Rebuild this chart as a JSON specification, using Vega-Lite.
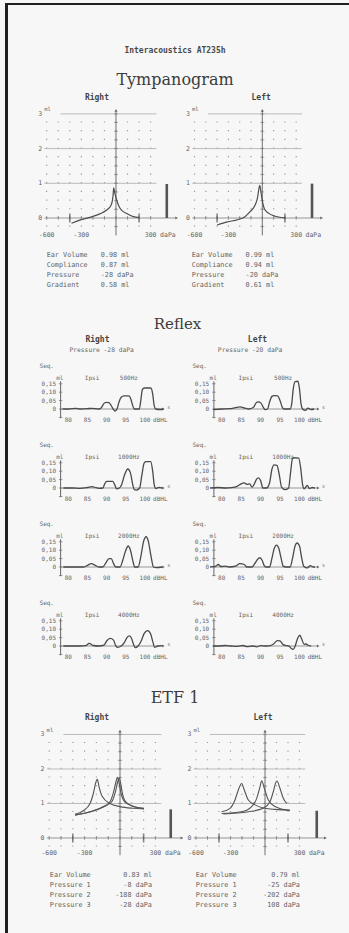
{
"$schema":"https://vega.github.io/schema/vega-lite/v6.json",
"background":"#f7f7f7",
"padding":{"left":5,"top":3,"right":0,"bottom":0},
"spacing":0,
"bounds":"flush",
"config":{"view":{"stroke":null},"axis":{"disable":true},"legend":{"disable":true},"font":"DejaVu Sans Mono","text":{"font":"DejaVu Sans Mono","color":"#5e5e5e"}},
"datasets":{
"one":[{}],
"gridp":[{"p":-600},{"p":-500},{"p":-400},{"p":-300},{"p":-200},{"p":-100},{"p":0},{"p":100},{"p":200},{"p":300}],
"gridc":[{"c":-0.25},{"c":0.25},{"c":0.5},{"c":0.75},{"c":1},{"c":1.25},{"c":1.5},{"c":1.75},{"c":2},{"c":2.25},{"c":2.5},{"c":2.75},{"c":3}],
"hlines":[{"c":1},{"c":2}],
"ylab":[{"c":0,"t":"0"},{"c":1,"t":"1"},{"c":2,"t":"2"},{"c":3,"t":"3"}],
"xlab":[{"p":-600,"t":"-600"},{"p":-300,"t":"-300"},{"p":300,"t":"300"}],
"bigt":[{"p":-400},{"p":200}],
"tympR":[{"p":-385,"m":-0.15},{"p":-313,"m":-0.06},{"p":-226,"m":0.02},{"p":-139,"m":0.12},{"p":-81,"m":0.23},{"p":-43,"m":0.37},{"p":-30,"m":0.52},{"p":-24,"m":0.7},{"p":-20,"m":0.87},{"p":-10,"m":0.72},{"p":6,"m":0.52},{"p":20,"m":0.38},{"p":35,"m":0.28},{"p":60,"m":0.19},{"p":93,"m":0.13},{"p":150,"m":0.04},{"p":200,"m":0.01}],
"tympL":[{"p":-400,"m":-0.2},{"p":-309,"m":-0.11},{"p":-218,"m":-0.05},{"p":-157,"m":0.03},{"p":-112,"m":0.17},{"p":-66,"m":0.36},{"p":-42,"m":0.59},{"p":-30,"m":0.85},{"p":-22,"m":0.94},{"p":-12,"m":0.75},{"p":0,"m":0.5},{"p":18,"m":0.27},{"p":55,"m":0.14},{"p":115,"m":0.05},{"p":206,"m":0.0}],
"etfR":[
{"n":1,"p":-381,"m":0.67},{"n":1,"p":-226,"m":0.78},{"n":1,"p":-141,"m":0.9},{"n":1,"p":-70,"m":1.05},{"n":1,"p":-42,"m":1.3},{"n":1,"p":-19,"m":1.63},{"n":1,"p":-8,"m":1.74},{"n":1,"p":5,"m":1.6},{"n":1,"p":20,"m":1.3},{"n":1,"p":45,"m":1.06},{"n":1,"p":100,"m":0.93},{"n":1,"p":203,"m":0.86},
{"n":2,"p":-381,"m":0.69},{"n":2,"p":-311,"m":0.79},{"n":2,"p":-254,"m":1.0},{"n":2,"p":-226,"m":1.29},{"n":2,"p":-203,"m":1.63},{"n":2,"p":-192,"m":1.7},{"n":2,"p":-178,"m":1.49},{"n":2,"p":-150,"m":1.2},{"n":2,"p":-85,"m":1.0},{"n":2,"p":0,"m":0.91},{"n":2,"p":113,"m":0.86},{"n":2,"p":203,"m":0.84},
{"n":3,"p":-381,"m":0.66},{"n":3,"p":-226,"m":0.79},{"n":3,"p":-141,"m":0.91},{"n":3,"p":-85,"m":1.05},{"n":3,"p":-57,"m":1.3},{"n":3,"p":-34,"m":1.63},{"n":3,"p":-23,"m":1.76},{"n":3,"p":-8,"m":1.6},{"n":3,"p":10,"m":1.28},{"n":3,"p":40,"m":1.05},{"n":3,"p":113,"m":0.92},{"n":3,"p":203,"m":0.85}],
"etfL":[
{"n":1,"p":-377,"m":0.71},{"n":1,"p":-203,"m":0.76},{"n":1,"p":-116,"m":0.91},{"n":1,"p":-72,"m":1.15},{"n":1,"p":-43,"m":1.49},{"n":1,"p":-29,"m":1.66},{"n":1,"p":-6,"m":1.44},{"n":1,"p":29,"m":1.1},{"n":1,"p":87,"m":0.91},{"n":1,"p":217,"m":0.79},
{"n":2,"p":-377,"m":0.76},{"n":2,"p":-304,"m":0.86},{"n":2,"p":-261,"m":1.1},{"n":2,"p":-232,"m":1.39},{"n":2,"p":-203,"m":1.58},{"n":2,"p":-180,"m":1.39},{"n":2,"p":-145,"m":1.1},{"n":2,"p":-87,"m":0.96},{"n":2,"p":0,"m":0.86},{"n":2,"p":87,"m":0.83},{"n":2,"p":217,"m":0.81},
{"n":3,"p":-362,"m":0.7},{"n":3,"p":-145,"m":0.76},{"n":3,"p":-15,"m":0.86},{"n":3,"p":43,"m":1.05},{"n":3,"p":72,"m":1.34},{"n":3,"p":93,"m":1.6},{"n":3,"p":104,"m":1.65},{"n":3,"p":130,"m":1.44},{"n":3,"p":159,"m":1.15},{"n":3,"p":189,"m":1.0}],
"rylab":[{"v":0.15,"t":"0,15"},{"v":0.1,"t":"0,10"},{"v":0.05,"t":"0,05"},{"v":0,"t":"0"}],
"rytick":[{"v":-0.05},{"v":0},{"v":0.05},{"v":0.1},{"v":0.15}],
"rxlab":[{"d":80,"t":"80"},{"d":85,"t":"85"},{"d":90,"t":"90"},{"d":95,"t":"95"},{"d":100,"t":"100"}],
"r500R":[{"d":78.5,"m":0},{"d":80,"m":0},{"d":82,"m":0.004},{"d":83,"m":0},{"d":85,"m":0.002},{"d":86,"m":0.004},{"d":88,"m":0},{"d":88.7,"m":0.01},{"d":89.2,"m":0.03},{"d":89.9,"m":0.04},{"d":90.6,"m":0.038},{"d":91.2,"m":0.02},{"d":91.7,"m":0},{"d":92.2,"m":-0.012},{"d":92.7,"m":0},{"d":93.2,"m":0.04},{"d":93.8,"m":0.07},{"d":94.5,"m":0.078},{"d":95.8,"m":0.078},{"d":96.3,"m":0.06},{"d":96.8,"m":0.02},{"d":97.2,"m":0},{"d":98.5,"m":0},{"d":98.9,"m":0.05},{"d":99.3,"m":0.115},{"d":99.8,"m":0.125},{"d":101.5,"m":0.125},{"d":102,"m":0.09},{"d":102.4,"m":0.02},{"d":102.8,"m":0},{"d":104,"m":-0.003},{"d":104.8,"m":0}],
"r500L":[{"d":77.8,"m":-0.004},{"d":80,"m":0},{"d":82,"m":0.002},{"d":83.5,"m":0.008},{"d":84.7,"m":0.013},{"d":86,"m":0.005},{"d":87,"m":0},{"d":88.2,"m":0.01},{"d":88.8,"m":0.035},{"d":89.4,"m":0.042},{"d":90.1,"m":0.035},{"d":90.7,"m":0.01},{"d":91.2,"m":-0.004},{"d":91.8,"m":0},{"d":92.3,"m":0.04},{"d":92.9,"m":0.075},{"d":93.5,"m":0.08},{"d":94.4,"m":0.078},{"d":95,"m":0.05},{"d":95.6,"m":0.01},{"d":96,"m":0},{"d":97.6,"m":0},{"d":98,"m":0.03},{"d":98.4,"m":0.12},{"d":98.9,"m":0.163},{"d":99.6,"m":0.165},{"d":100,"m":0.12},{"d":100.4,"m":0.03},{"d":100.8,"m":0},{"d":101.5,"m":-0.008},{"d":102.2,"m":0.005},{"d":103,"m":-0.003},{"d":103.8,"m":0}],
"r1000R":[{"d":78.7,"m":0},{"d":81,"m":0},{"d":83,"m":-0.002},{"d":85,"m":0.003},{"d":86.2,"m":0.008},{"d":87.2,"m":0.002},{"d":88,"m":-0.002},{"d":89,"m":0},{"d":89.5,"m":0.025},{"d":90,"m":0.04},{"d":91.6,"m":0.04},{"d":92.1,"m":0.02},{"d":92.6,"m":-0.005},{"d":93.3,"m":0},{"d":93.9,"m":0.02},{"d":94.7,"m":0.08},{"d":95.5,"m":0.113},{"d":96.2,"m":0.09},{"d":96.8,"m":0.02},{"d":97.2,"m":-0.01},{"d":97.8,"m":-0.012},{"d":98.6,"m":0},{"d":99.2,"m":0.08},{"d":99.8,"m":0.15},{"d":100.3,"m":0.157},{"d":101.5,"m":0.157},{"d":102,"m":0.1},{"d":102.4,"m":0.02},{"d":102.8,"m":-0.003},{"d":103.7,"m":0.004},{"d":104.5,"m":0}],
"r1000L":[{"d":77,"m":0},{"d":79,"m":0.003},{"d":81,"m":0},{"d":82.5,"m":0.002},{"d":84,"m":0.01},{"d":85,"m":0.025},{"d":85.8,"m":0.03},{"d":86.5,"m":0.022},{"d":87.2,"m":0.025},{"d":87.8,"m":0.005},{"d":88.3,"m":0.02},{"d":88.9,"m":0.05},{"d":89.4,"m":0.06},{"d":90,"m":0.045},{"d":90.6,"m":0},{"d":91.5,"m":0},{"d":92.3,"m":0.03},{"d":92.9,"m":0.11},{"d":93.5,"m":0.138},{"d":94.2,"m":0.135},{"d":94.8,"m":0.08},{"d":95.4,"m":0.005},{"d":96.3,"m":-0.01},{"d":97.2,"m":0},{"d":97.7,"m":0.09},{"d":98.2,"m":0.175},{"d":98.6,"m":0.18},{"d":99.8,"m":0.178},{"d":100.3,"m":0.12},{"d":100.8,"m":0.02},{"d":101.2,"m":-0.005},{"d":102,"m":0.015},{"d":102.6,"m":-0.003},{"d":103.3,"m":0.003},{"d":104,"m":0}],
"r2000R":[{"d":78.7,"m":0},{"d":82,"m":0},{"d":84,"m":0},{"d":85,"m":0.01},{"d":86,"m":0.02},{"d":87,"m":0.01},{"d":88,"m":0},{"d":89,"m":0},{"d":89.8,"m":0.025},{"d":90.6,"m":0.05},{"d":91.2,"m":0.05},{"d":91.8,"m":0.02},{"d":92.4,"m":0},{"d":93.5,"m":0},{"d":94.2,"m":0.04},{"d":95,"m":0.1},{"d":95.6,"m":0.125},{"d":96.2,"m":0.1},{"d":96.8,"m":0.04},{"d":97.3,"m":0},{"d":98.2,"m":0},{"d":98.9,"m":0.06},{"d":99.6,"m":0.15},{"d":100.3,"m":0.18},{"d":100.9,"m":0.15},{"d":101.6,"m":0.06},{"d":102.2,"m":0},{"d":103,"m":-0.004},{"d":104.5,"m":0}],
"r2000L":[{"d":77,"m":0},{"d":78.5,"m":0.005},{"d":79.1,"m":0.015},{"d":79.8,"m":0.003},{"d":81,"m":0.005},{"d":82,"m":0},{"d":83.5,"m":0.005},{"d":84.7,"m":0.02},{"d":85.8,"m":0.015},{"d":86.5,"m":0},{"d":87.8,"m":0},{"d":88.5,"m":0.02},{"d":89.2,"m":0.045},{"d":89.8,"m":0.055},{"d":90.4,"m":0.04},{"d":90.9,"m":0.01},{"d":91.4,"m":0},{"d":92.3,"m":0},{"d":92.9,"m":0.05},{"d":93.5,"m":0.11},{"d":94.1,"m":0.13},{"d":94.7,"m":0.11},{"d":95.3,"m":0.05},{"d":95.8,"m":0.005},{"d":96.5,"m":0},{"d":97.6,"m":0},{"d":98.2,"m":0.05},{"d":98.8,"m":0.12},{"d":99.4,"m":0.143},{"d":100,"m":0.125},{"d":100.6,"m":0.05},{"d":101.1,"m":0.005},{"d":102,"m":-0.005},{"d":102.8,"m":0.008},{"d":103.5,"m":0},{"d":104,"m":0}],
"r4000R":[{"d":78.7,"m":0},{"d":81,"m":0},{"d":83,"m":0},{"d":84.5,"m":0.002},{"d":85.5,"m":0.016},{"d":86.5,"m":0.003},{"d":88,"m":0},{"d":89.3,"m":0.005},{"d":90,"m":0.03},{"d":90.9,"m":0.045},{"d":91.8,"m":0.035},{"d":92.3,"m":0.005},{"d":92.8,"m":-0.008},{"d":93.8,"m":0},{"d":94.6,"m":0.02},{"d":95.3,"m":0.05},{"d":95.9,"m":0.06},{"d":96.5,"m":0.045},{"d":97,"m":0.01},{"d":97.5,"m":-0.01},{"d":98.2,"m":0},{"d":99,"m":0.03},{"d":99.8,"m":0.075},{"d":100.7,"m":0.092},{"d":101.5,"m":0.07},{"d":102.1,"m":0.02},{"d":102.5,"m":-0.008},{"d":103.3,"m":0},{"d":104.5,"m":0.002}],
"r4000L":[{"d":77.8,"m":0},{"d":79,"m":0},{"d":81,"m":0.003},{"d":82.5,"m":0},{"d":84,"m":-0.002},{"d":85.5,"m":0.003},{"d":86.5,"m":-0.004},{"d":88,"m":0},{"d":89,"m":-0.005},{"d":90,"m":0.002},{"d":91.5,"m":0},{"d":92.5,"m":0.002},{"d":93.5,"m":0.015},{"d":94.3,"m":0.032},{"d":95,"m":0.03},{"d":95.8,"m":0.008},{"d":96.5,"m":0.003},{"d":97.3,"m":0},{"d":97.9,"m":-0.015},{"d":98.4,"m":-0.02},{"d":98.9,"m":0},{"d":99.5,"m":0.045},{"d":100.1,"m":0.064},{"d":100.6,"m":0.04},{"d":101.2,"m":0.01},{"d":101.7,"m":0.012},{"d":102.3,"m":0.003},{"d":103,"m":0}]
},
"vconcat":[
{"width":344,"height":2,"view":{"fill":"#202020"},"data":{"values":[]},"mark":"point","encoding":{}},
{"spacing":0,"bounds":"flush","hconcat":[
{"width":3,"height":928,"view":{"fill":"#202020"},"data":{"values":[]},"mark":"point","encoding":{}},
{"spacing":0,"vconcat":[

{"width":334,"height":87,"layer":[
{"data":{"values":[{"t":"Interacoustics AT235h"}]},"mark":{"type":"text","fontSize":8,"fontWeight":"bold","color":"#4a4a4a"},"encoding":{"y":{"field":"t","type":"nominal","scale":{"type":"point","domain":["Interacoustics AT235h","Tympanogram"],"padding":1,"align":0.793}},"text":{"field":"t","type":"nominal"}}},
{"data":{"values":[{"t":"Tympanogram"}]},"mark":{"type":"text","fontSize":16,"font":"DejaVu Serif","color":"#3c3c3c"},"encoding":{"y":{"field":"t","type":"nominal"},"text":{"field":"t","type":"nominal"}}}
]},

{"spacing":0,"bounds":"flush","hconcat":[
{"width":167,"height":158,"layer":[
{"data":{"name":"gridp"},"mark":{"type":"rule","color":"#9a9a9a","strokeWidth":1.2,"strokeDash":[1.2,7.475]},"encoding":{"x":{"field":"p","type":"quantitative","scale":{"domain":[-935,511],"nice":false,"zero":false}},"y":{"datum":-0.25,"type":"quantitative","scale":{"domain":[-0.922,3.631],"nice":false,"zero":false}},"y2":{"datum":3.0}}},
{"data":{"name":"hlines"},"mark":{"type":"rule","color":"#b4b4b4","strokeWidth":0.9},"encoding":{"x":{"datum":-620,"type":"quantitative"},"x2":{"datum":350},"y":{"field":"c","type":"quantitative"}}},
{"data":{"name":"one"},"mark":{"type":"rule","color":"#b4b4b4","strokeWidth":0.9},"encoding":{"x":{"datum":-480,"type":"quantitative"},"x2":{"datum":350},"y":{"datum":3,"type":"quantitative"}}},
{"data":{"name":"one"},"mark":{"type":"rule","color":"#8a8a8a","strokeWidth":0.9},"encoding":{"x":{"datum":-620,"type":"quantitative"},"x2":{"datum":515},"y":{"datum":0,"type":"quantitative"}}},
{"data":{"name":"one"},"mark":{"type":"rule","color":"#707070","strokeWidth":1},"encoding":{"x":{"datum":0,"type":"quantitative"},"y":{"datum":-0.5,"type":"quantitative"},"y2":{"datum":3.08}}},
{"data":{"name":"one"},"mark":{"type":"point","shape":"triangle-up","size":10,"filled":true,"opacity":1,"color":"#666"},"encoding":{"x":{"datum":0,"type":"quantitative"},"y":{"datum":3.1,"type":"quantitative"}}},
{"data":{"name":"one"},"mark":{"type":"point","shape":"triangle-right","size":10,"filled":true,"opacity":1,"color":"#666"},"encoding":{"x":{"datum":525,"type":"quantitative"},"y":{"datum":0,"type":"quantitative"}}},
{"data":{"name":"gridp"},"mark":{"type":"tick","orient":"vertical","size":4,"thickness":0.9,"color":"#777"},"encoding":{"x":{"field":"p","type":"quantitative"},"y":{"datum":0,"type":"quantitative"}}},
{"data":{"name":"bigt"},"mark":{"type":"tick","orient":"vertical","size":9,"thickness":1.6,"color":"#555"},"encoding":{"x":{"field":"p","type":"quantitative"},"y":{"datum":0,"type":"quantitative"}}},
{"data":{"name":"gridc"},"mark":{"type":"tick","orient":"horizontal","size":4,"thickness":0.9,"color":"#777"},"encoding":{"x":{"datum":0,"type":"quantitative"},"y":{"field":"c","type":"quantitative"}}},
{"data":{"name":"ylab"},"mark":{"type":"text","align":"right","fontSize":6.5,"color":"#666"},"encoding":{"x":{"datum":-640,"type":"quantitative"},"y":{"field":"c","type":"quantitative"},"text":{"field":"t","type":"nominal"}}},
{"data":{"name":"one"},"mark":{"type":"text","text":"ml","align":"left","fontSize":5.5,"color":"#666"},"encoding":{"x":{"datum":-622,"type":"quantitative"},"y":{"datum":3.13,"type":"quantitative"}}},
{"data":{"name":"xlab"},"mark":{"type":"text","fontSize":6.5,"color":"#666"},"encoding":{"x":{"field":"p","type":"quantitative"},"y":{"datum":-0.49,"type":"quantitative"},"text":{"field":"t","type":"nominal"}}},
{"data":{"name":"one"},"mark":{"type":"text","text":"daPa","align":"left","fontSize":6.5,"color":"#666"},"encoding":{"x":{"datum":382,"type":"quantitative"},"y":{"datum":-0.49,"type":"quantitative"}}},
{"data":{"name":"one"},"mark":{"type":"text","text":"Right","fontSize":8,"fontWeight":"bold","color":"#444"},"encoding":{"x":{"datum":-165,"type":"quantitative"},"y":{"datum":3.46,"type":"quantitative"}}},
{"data":{"values":[{"vol":0.98}]},"mark":{"type":"rule","color":"#555","strokeWidth":2.6},"encoding":{"x":{"datum":440,"type":"quantitative"},"y":{"field":"vol","type":"quantitative"},"y2":{"datum":0}}},
{"data":{"name":"tympR"},"mark":{"type":"line","color":"#4e4e4e","strokeWidth":1.2,"interpolate":"monotone"},"encoding":{"x":{"field":"p","type":"quantitative"},"y":{"field":"m","type":"quantitative"}}}
]},
{"width":174,"height":158,"layer":[
{"data":{"name":"gridp"},"mark":{"type":"rule","color":"#9a9a9a","strokeWidth":1.2,"strokeDash":[1.2,7.475]},"encoding":{"x":{"field":"p","type":"quantitative","scale":{"domain":[-772.6,767.3],"nice":false,"zero":false}},"y":{"datum":-0.25,"type":"quantitative","scale":{"domain":[-0.922,3.631],"nice":false,"zero":false}},"y2":{"datum":3.0}}},
{"data":{"name":"hlines"},"mark":{"type":"rule","color":"#b4b4b4","strokeWidth":0.9},"encoding":{"x":{"datum":-620,"type":"quantitative"},"x2":{"datum":350},"y":{"field":"c","type":"quantitative"}}},
{"data":{"name":"one"},"mark":{"type":"rule","color":"#b4b4b4","strokeWidth":0.9},"encoding":{"x":{"datum":-480,"type":"quantitative"},"x2":{"datum":350},"y":{"datum":3,"type":"quantitative"}}},
{"data":{"name":"one"},"mark":{"type":"rule","color":"#8a8a8a","strokeWidth":0.9},"encoding":{"x":{"datum":-620,"type":"quantitative"},"x2":{"datum":515},"y":{"datum":0,"type":"quantitative"}}},
{"data":{"name":"one"},"mark":{"type":"rule","color":"#707070","strokeWidth":1},"encoding":{"x":{"datum":0,"type":"quantitative"},"y":{"datum":-0.5,"type":"quantitative"},"y2":{"datum":3.08}}},
{"data":{"name":"one"},"mark":{"type":"point","shape":"triangle-up","size":10,"filled":true,"opacity":1,"color":"#666"},"encoding":{"x":{"datum":0,"type":"quantitative"},"y":{"datum":3.1,"type":"quantitative"}}},
{"data":{"name":"one"},"mark":{"type":"point","shape":"triangle-right","size":10,"filled":true,"opacity":1,"color":"#666"},"encoding":{"x":{"datum":525,"type":"quantitative"},"y":{"datum":0,"type":"quantitative"}}},
{"data":{"name":"gridp"},"mark":{"type":"tick","orient":"vertical","size":4,"thickness":0.9,"color":"#777"},"encoding":{"x":{"field":"p","type":"quantitative"},"y":{"datum":0,"type":"quantitative"}}},
{"data":{"name":"bigt"},"mark":{"type":"tick","orient":"vertical","size":9,"thickness":1.6,"color":"#555"},"encoding":{"x":{"field":"p","type":"quantitative"},"y":{"datum":0,"type":"quantitative"}}},
{"data":{"name":"gridc"},"mark":{"type":"tick","orient":"horizontal","size":4,"thickness":0.9,"color":"#777"},"encoding":{"x":{"datum":0,"type":"quantitative"},"y":{"field":"c","type":"quantitative"}}},
{"data":{"name":"ylab"},"mark":{"type":"text","align":"right","fontSize":6.5,"color":"#666"},"encoding":{"x":{"datum":-640,"type":"quantitative"},"y":{"field":"c","type":"quantitative"},"text":{"field":"t","type":"nominal"}}},
{"data":{"name":"one"},"mark":{"type":"text","text":"ml","align":"left","fontSize":5.5,"color":"#666"},"encoding":{"x":{"datum":-622,"type":"quantitative"},"y":{"datum":3.13,"type":"quantitative"}}},
{"data":{"name":"xlab"},"mark":{"type":"text","fontSize":6.5,"color":"#666"},"encoding":{"x":{"field":"p","type":"quantitative"},"y":{"datum":-0.49,"type":"quantitative"},"text":{"field":"t","type":"nominal"}}},
{"data":{"name":"one"},"mark":{"type":"text","text":"daPa","align":"left","fontSize":6.5,"color":"#666"},"encoding":{"x":{"datum":382,"type":"quantitative"},"y":{"datum":-0.49,"type":"quantitative"}}},
{"data":{"name":"one"},"mark":{"type":"text","text":"Left","fontSize":8,"fontWeight":"bold","color":"#444"},"encoding":{"x":{"datum":-10,"type":"quantitative"},"y":{"datum":3.46,"type":"quantitative"}}},
{"data":{"values":[{"vol":0.99}]},"mark":{"type":"rule","color":"#555","strokeWidth":2.6},"encoding":{"x":{"datum":440,"type":"quantitative"},"y":{"field":"vol","type":"quantitative"},"y2":{"datum":0}}},
{"data":{"name":"tympL"},"mark":{"type":"line","color":"#4e4e4e","strokeWidth":1.2,"interpolate":"monotone"},"encoding":{"x":{"field":"p","type":"quantitative"},"y":{"field":"m","type":"quantitative"}}}
]}
]},

{"spacing":0,"bounds":"flush","hconcat":[
{"width":167,"height":40,"data":{"values":[{"k":"Ear Volume","v":"0.98 ml"},{"k":"Compliance","v":"0.87 ml"},{"k":"Pressure","v":"\u00a0\u00a0-28 daPa"},{"k":"Gradient","v":"0.58 ml"}]},"layer":[
{"mark":{"type":"text","align":"left","fontSize":6.8,"color":"#636363"},"encoding":{"y":{"field":"k","type":"nominal","sort":null,"scale":{"type":"point","padding":0.5}},"x":{"datum":-600,"type":"quantitative","scale":{"domain":[-935,511],"nice":false,"zero":false}},"text":{"field":"k","type":"nominal"}}},
{"mark":{"type":"text","align":"left","fontSize":6.8,"color":"#636363"},"encoding":{"y":{"field":"k","type":"nominal","sort":null},"x":{"datum":-132,"type":"quantitative"},"text":{"field":"v","type":"nominal"}}}
]},
{"width":174,"height":40,"data":{"values":[{"k":"Ear Volume","v":"0.99 ml"},{"k":"Compliance","v":"0.94 ml"},{"k":"Pressure","v":"\u00a0\u00a0-20 daPa"},{"k":"Gradient","v":"0.61 ml"}]},"layer":[
{"mark":{"type":"text","align":"left","fontSize":6.8,"color":"#636363"},"encoding":{"y":{"field":"k","type":"nominal","sort":null,"scale":{"type":"point","padding":0.5}},"x":{"datum":-625,"type":"quantitative","scale":{"domain":[-772.6,767.3],"nice":false,"zero":false}},"text":{"field":"k","type":"nominal"}}},
{"mark":{"type":"text","align":"left","fontSize":6.8,"color":"#636363"},"encoding":{"y":{"field":"k","type":"nominal","sort":null},"x":{"datum":-148,"type":"quantitative"},"text":{"field":"v","type":"nominal"}}}
]}
]},

{"width":339,"height":44,"data":{"values":[{"t":"Reflex"}]},"mark":{"type":"text","fontSize":15,"font":"DejaVu Serif","color":"#3c3c3c"},"encoding":{"y":{"field":"t","type":"nominal","scale":{"type":"point","align":0.773}},"text":{"field":"t","type":"nominal"}}},

{"spacing":0,"bounds":"flush","hconcat":[
{"width":167,"height":93,"layer":[
{"data":{"name":"one"},"mark":{"type":"rule","color":"#8a8a8a","strokeWidth":0.9},"encoding":{"x":{"datum":78,"type":"quantitative","scale":{"domain":[64.28,107.82],"nice":false,"zero":false}},"x2":{"datum":104.5},"y":{"datum":0,"type":"quantitative","scale":{"domain":[-0.107,0.446],"nice":false,"zero":false}}}},
{"data":{"name":"one"},"mark":{"type":"rule","color":"#666","strokeWidth":1},"encoding":{"x":{"datum":78,"type":"quantitative"},"y":{"datum":-0.055,"type":"quantitative"},"y2":{"datum":0.165}}},
{"data":{"name":"one"},"mark":{"type":"point","shape":"triangle-right","size":8,"filled":true,"opacity":1,"color":"#666"},"encoding":{"x":{"datum":104.8,"type":"quantitative"},"y":{"datum":0,"type":"quantitative"}}},
{"data":{"name":"rytick"},"mark":{"type":"tick","orient":"horizontal","size":3.5,"thickness":0.9,"color":"#666"},"encoding":{"x":{"datum":78,"type":"quantitative"},"y":{"field":"v","type":"quantitative"}}},
{"data":{"name":"rylab"},"mark":{"type":"text","align":"right","fontSize":6,"color":"#666"},"encoding":{"x":{"datum":76.8,"type":"quantitative"},"y":{"field":"v","type":"quantitative"},"text":{"field":"t","type":"nominal"}}},
{"data":{"name":"rxlab"},"mark":{"type":"text","fontSize":6,"color":"#666"},"encoding":{"x":{"field":"d","type":"quantitative"},"y":{"datum":-0.068,"type":"quantitative"},"text":{"field":"t","type":"nominal"}}},
{"data":{"name":"one"},"mark":{"type":"text","text":"dBHL","align":"left","fontSize":6,"color":"#666"},"encoding":{"x":{"datum":102.1,"type":"quantitative"},"y":{"datum":-0.068,"type":"quantitative"}}},
{"data":{"name":"one"},"mark":{"type":"text","text":"s","align":"left","fontSize":5,"color":"#666"},"encoding":{"x":{"datum":105.8,"type":"quantitative"},"y":{"datum":0.014,"type":"quantitative"}}},
{"data":{"name":"one"},"mark":{"type":"text","text":"Seq.","align":"left","fontSize":6,"color":"#666"},"encoding":{"x":{"datum":72.5,"type":"quantitative"},"y":{"datum":0.256,"type":"quantitative"}}},
{"data":{"name":"one"},"mark":{"type":"text","text":"ml","fontSize":6,"color":"#666"},"encoding":{"x":{"datum":77.8,"type":"quantitative"},"y":{"datum":0.185,"type":"quantitative"}}},
{"data":{"name":"one"},"mark":{"type":"text","text":"Ipsi","fontSize":6,"color":"#666"},"encoding":{"x":{"datum":86.2,"type":"quantitative"},"y":{"datum":0.185,"type":"quantitative"}}},
{"data":{"name":"one"},"mark":{"type":"text","text":"500Hz","fontSize":6,"color":"#666"},"encoding":{"x":{"datum":95.8,"type":"quantitative"},"y":{"datum":0.185,"type":"quantitative"}}},
{"data":{"name":"one"},"mark":{"type":"text","text":"Right","fontSize":8,"fontWeight":"bold","color":"#444"},"encoding":{"x":{"datum":87.6,"type":"quantitative"},"y":{"datum":0.41,"type":"quantitative"}}},
{"data":{"name":"one"},"mark":{"type":"text","text":"Pressure -28 daPa","fontSize":6.3,"color":"#666"},"encoding":{"x":{"datum":88.7,"type":"quantitative"},"y":{"datum":0.351,"type":"quantitative"}}},
{"data":{"name":"r500R"},"mark":{"type":"line","color":"#4a4a4a","strokeWidth":1.3,"interpolate":"monotone"},"encoding":{"x":{"field":"d","type":"quantitative"},"y":{"field":"m","type":"quantitative"}}}
]},
{"width":174,"height":93,"layer":[
{"data":{"name":"one"},"mark":{"type":"rule","color":"#8a8a8a","strokeWidth":0.9},"encoding":{"x":{"datum":78,"type":"quantitative","scale":{"domain":[68.0,112.73],"nice":false,"zero":false}},"x2":{"datum":104.5},"y":{"datum":0,"type":"quantitative","scale":{"domain":[-0.107,0.446],"nice":false,"zero":false}}}},
{"data":{"name":"one"},"mark":{"type":"rule","color":"#666","strokeWidth":1},"encoding":{"x":{"datum":78,"type":"quantitative"},"y":{"datum":-0.055,"type":"quantitative"},"y2":{"datum":0.165}}},
{"data":{"name":"one"},"mark":{"type":"point","shape":"triangle-right","size":8,"filled":true,"opacity":1,"color":"#666"},"encoding":{"x":{"datum":104.8,"type":"quantitative"},"y":{"datum":0,"type":"quantitative"}}},
{"data":{"name":"rytick"},"mark":{"type":"tick","orient":"horizontal","size":3.5,"thickness":0.9,"color":"#666"},"encoding":{"x":{"datum":78,"type":"quantitative"},"y":{"field":"v","type":"quantitative"}}},
{"data":{"name":"rylab"},"mark":{"type":"text","align":"right","fontSize":6,"color":"#666"},"encoding":{"x":{"datum":76.8,"type":"quantitative"},"y":{"field":"v","type":"quantitative"},"text":{"field":"t","type":"nominal"}}},
{"data":{"name":"rxlab"},"mark":{"type":"text","fontSize":6,"color":"#666"},"encoding":{"x":{"field":"d","type":"quantitative"},"y":{"datum":-0.068,"type":"quantitative"},"text":{"field":"t","type":"nominal"}}},
{"data":{"name":"one"},"mark":{"type":"text","text":"dBHL","align":"left","fontSize":6,"color":"#666"},"encoding":{"x":{"datum":102.1,"type":"quantitative"},"y":{"datum":-0.068,"type":"quantitative"}}},
{"data":{"name":"one"},"mark":{"type":"text","text":"s","align":"left","fontSize":5,"color":"#666"},"encoding":{"x":{"datum":105.8,"type":"quantitative"},"y":{"datum":0.014,"type":"quantitative"}}},
{"data":{"name":"one"},"mark":{"type":"text","text":"Seq.","align":"left","fontSize":6,"color":"#666"},"encoding":{"x":{"datum":72.5,"type":"quantitative"},"y":{"datum":0.256,"type":"quantitative"}}},
{"data":{"name":"one"},"mark":{"type":"text","text":"ml","fontSize":6,"color":"#666"},"encoding":{"x":{"datum":77.8,"type":"quantitative"},"y":{"datum":0.185,"type":"quantitative"}}},
{"data":{"name":"one"},"mark":{"type":"text","text":"Ipsi","fontSize":6,"color":"#666"},"encoding":{"x":{"datum":86.2,"type":"quantitative"},"y":{"datum":0.185,"type":"quantitative"}}},
{"data":{"name":"one"},"mark":{"type":"text","text":"500Hz","fontSize":6,"color":"#666"},"encoding":{"x":{"datum":95.8,"type":"quantitative"},"y":{"datum":0.185,"type":"quantitative"}}},
{"data":{"name":"one"},"mark":{"type":"text","text":"Left","fontSize":8,"fontWeight":"bold","color":"#444"},"encoding":{"x":{"datum":89.2,"type":"quantitative"},"y":{"datum":0.41,"type":"quantitative"}}},
{"data":{"name":"one"},"mark":{"type":"text","text":"Pressure -20 daPa","fontSize":6.3,"color":"#666"},"encoding":{"x":{"datum":87.3,"type":"quantitative"},"y":{"datum":0.351,"type":"quantitative"}}},
{"data":{"name":"r500L"},"mark":{"type":"line","color":"#4a4a4a","strokeWidth":1.3,"interpolate":"monotone"},"encoding":{"x":{"field":"d","type":"quantitative"},"y":{"field":"m","type":"quantitative"}}}
]}
]},

{"spacing":0,"bounds":"flush","hconcat":[
{"width":167,"height":79,"layer":[
{"data":{"name":"one"},"mark":{"type":"rule","color":"#8a8a8a","strokeWidth":0.9},"encoding":{"x":{"datum":78,"type":"quantitative","scale":{"domain":[64.28,107.82],"nice":false,"zero":false}},"x2":{"datum":104.5},"y":{"datum":0,"type":"quantitative","scale":{"domain":[-0.107,0.363],"nice":false,"zero":false}}}},
{"data":{"name":"one"},"mark":{"type":"rule","color":"#666","strokeWidth":1},"encoding":{"x":{"datum":78,"type":"quantitative"},"y":{"datum":-0.055,"type":"quantitative"},"y2":{"datum":0.165}}},
{"data":{"name":"one"},"mark":{"type":"point","shape":"triangle-right","size":8,"filled":true,"opacity":1,"color":"#666"},"encoding":{"x":{"datum":104.8,"type":"quantitative"},"y":{"datum":0,"type":"quantitative"}}},
{"data":{"name":"rytick"},"mark":{"type":"tick","orient":"horizontal","size":3.5,"thickness":0.9,"color":"#666"},"encoding":{"x":{"datum":78,"type":"quantitative"},"y":{"field":"v","type":"quantitative"}}},
{"data":{"name":"rylab"},"mark":{"type":"text","align":"right","fontSize":6,"color":"#666"},"encoding":{"x":{"datum":76.8,"type":"quantitative"},"y":{"field":"v","type":"quantitative"},"text":{"field":"t","type":"nominal"}}},
{"data":{"name":"rxlab"},"mark":{"type":"text","fontSize":6,"color":"#666"},"encoding":{"x":{"field":"d","type":"quantitative"},"y":{"datum":-0.068,"type":"quantitative"},"text":{"field":"t","type":"nominal"}}},
{"data":{"name":"one"},"mark":{"type":"text","text":"dBHL","align":"left","fontSize":6,"color":"#666"},"encoding":{"x":{"datum":102.1,"type":"quantitative"},"y":{"datum":-0.068,"type":"quantitative"}}},
{"data":{"name":"one"},"mark":{"type":"text","text":"s","align":"left","fontSize":5,"color":"#666"},"encoding":{"x":{"datum":105.8,"type":"quantitative"},"y":{"datum":0.014,"type":"quantitative"}}},
{"data":{"name":"one"},"mark":{"type":"text","text":"Seq.","align":"left","fontSize":6,"color":"#666"},"encoding":{"x":{"datum":72.5,"type":"quantitative"},"y":{"datum":0.256,"type":"quantitative"}}},
{"data":{"name":"one"},"mark":{"type":"text","text":"ml","fontSize":6,"color":"#666"},"encoding":{"x":{"datum":77.8,"type":"quantitative"},"y":{"datum":0.185,"type":"quantitative"}}},
{"data":{"name":"one"},"mark":{"type":"text","text":"Ipsi","fontSize":6,"color":"#666"},"encoding":{"x":{"datum":86.2,"type":"quantitative"},"y":{"datum":0.185,"type":"quantitative"}}},
{"data":{"name":"one"},"mark":{"type":"text","text":"1000Hz","fontSize":6,"color":"#666"},"encoding":{"x":{"datum":95.8,"type":"quantitative"},"y":{"datum":0.185,"type":"quantitative"}}},
{"data":{"name":"r1000R"},"mark":{"type":"line","color":"#4a4a4a","strokeWidth":1.3,"interpolate":"monotone"},"encoding":{"x":{"field":"d","type":"quantitative"},"y":{"field":"m","type":"quantitative"}}}
]},
{"width":174,"height":79,"layer":[
{"data":{"name":"one"},"mark":{"type":"rule","color":"#8a8a8a","strokeWidth":0.9},"encoding":{"x":{"datum":78,"type":"quantitative","scale":{"domain":[68.0,112.73],"nice":false,"zero":false}},"x2":{"datum":104.5},"y":{"datum":0,"type":"quantitative","scale":{"domain":[-0.107,0.363],"nice":false,"zero":false}}}},
{"data":{"name":"one"},"mark":{"type":"rule","color":"#666","strokeWidth":1},"encoding":{"x":{"datum":78,"type":"quantitative"},"y":{"datum":-0.055,"type":"quantitative"},"y2":{"datum":0.165}}},
{"data":{"name":"one"},"mark":{"type":"point","shape":"triangle-right","size":8,"filled":true,"opacity":1,"color":"#666"},"encoding":{"x":{"datum":104.8,"type":"quantitative"},"y":{"datum":0,"type":"quantitative"}}},
{"data":{"name":"rytick"},"mark":{"type":"tick","orient":"horizontal","size":3.5,"thickness":0.9,"color":"#666"},"encoding":{"x":{"datum":78,"type":"quantitative"},"y":{"field":"v","type":"quantitative"}}},
{"data":{"name":"rylab"},"mark":{"type":"text","align":"right","fontSize":6,"color":"#666"},"encoding":{"x":{"datum":76.8,"type":"quantitative"},"y":{"field":"v","type":"quantitative"},"text":{"field":"t","type":"nominal"}}},
{"data":{"name":"rxlab"},"mark":{"type":"text","fontSize":6,"color":"#666"},"encoding":{"x":{"field":"d","type":"quantitative"},"y":{"datum":-0.068,"type":"quantitative"},"text":{"field":"t","type":"nominal"}}},
{"data":{"name":"one"},"mark":{"type":"text","text":"dBHL","align":"left","fontSize":6,"color":"#666"},"encoding":{"x":{"datum":102.1,"type":"quantitative"},"y":{"datum":-0.068,"type":"quantitative"}}},
{"data":{"name":"one"},"mark":{"type":"text","text":"s","align":"left","fontSize":5,"color":"#666"},"encoding":{"x":{"datum":105.8,"type":"quantitative"},"y":{"datum":0.014,"type":"quantitative"}}},
{"data":{"name":"one"},"mark":{"type":"text","text":"Seq.","align":"left","fontSize":6,"color":"#666"},"encoding":{"x":{"datum":72.5,"type":"quantitative"},"y":{"datum":0.256,"type":"quantitative"}}},
{"data":{"name":"one"},"mark":{"type":"text","text":"ml","fontSize":6,"color":"#666"},"encoding":{"x":{"datum":77.8,"type":"quantitative"},"y":{"datum":0.185,"type":"quantitative"}}},
{"data":{"name":"one"},"mark":{"type":"text","text":"Ipsi","fontSize":6,"color":"#666"},"encoding":{"x":{"datum":86.2,"type":"quantitative"},"y":{"datum":0.185,"type":"quantitative"}}},
{"data":{"name":"one"},"mark":{"type":"text","text":"1000Hz","fontSize":6,"color":"#666"},"encoding":{"x":{"datum":95.8,"type":"quantitative"},"y":{"datum":0.185,"type":"quantitative"}}},
{"data":{"name":"r1000L"},"mark":{"type":"line","color":"#4a4a4a","strokeWidth":1.3,"interpolate":"monotone"},"encoding":{"x":{"field":"d","type":"quantitative"},"y":{"field":"m","type":"quantitative"}}}
]}
]},

{"spacing":0,"bounds":"flush","hconcat":[
{"width":167,"height":79,"layer":[
{"data":{"name":"one"},"mark":{"type":"rule","color":"#8a8a8a","strokeWidth":0.9},"encoding":{"x":{"datum":78,"type":"quantitative","scale":{"domain":[64.28,107.82],"nice":false,"zero":false}},"x2":{"datum":104.5},"y":{"datum":0,"type":"quantitative","scale":{"domain":[-0.107,0.363],"nice":false,"zero":false}}}},
{"data":{"name":"one"},"mark":{"type":"rule","color":"#666","strokeWidth":1},"encoding":{"x":{"datum":78,"type":"quantitative"},"y":{"datum":-0.055,"type":"quantitative"},"y2":{"datum":0.165}}},
{"data":{"name":"one"},"mark":{"type":"point","shape":"triangle-right","size":8,"filled":true,"opacity":1,"color":"#666"},"encoding":{"x":{"datum":104.8,"type":"quantitative"},"y":{"datum":0,"type":"quantitative"}}},
{"data":{"name":"rytick"},"mark":{"type":"tick","orient":"horizontal","size":3.5,"thickness":0.9,"color":"#666"},"encoding":{"x":{"datum":78,"type":"quantitative"},"y":{"field":"v","type":"quantitative"}}},
{"data":{"name":"rylab"},"mark":{"type":"text","align":"right","fontSize":6,"color":"#666"},"encoding":{"x":{"datum":76.8,"type":"quantitative"},"y":{"field":"v","type":"quantitative"},"text":{"field":"t","type":"nominal"}}},
{"data":{"name":"rxlab"},"mark":{"type":"text","fontSize":6,"color":"#666"},"encoding":{"x":{"field":"d","type":"quantitative"},"y":{"datum":-0.068,"type":"quantitative"},"text":{"field":"t","type":"nominal"}}},
{"data":{"name":"one"},"mark":{"type":"text","text":"dBHL","align":"left","fontSize":6,"color":"#666"},"encoding":{"x":{"datum":102.1,"type":"quantitative"},"y":{"datum":-0.068,"type":"quantitative"}}},
{"data":{"name":"one"},"mark":{"type":"text","text":"s","align":"left","fontSize":5,"color":"#666"},"encoding":{"x":{"datum":105.8,"type":"quantitative"},"y":{"datum":0.014,"type":"quantitative"}}},
{"data":{"name":"one"},"mark":{"type":"text","text":"Seq.","align":"left","fontSize":6,"color":"#666"},"encoding":{"x":{"datum":72.5,"type":"quantitative"},"y":{"datum":0.256,"type":"quantitative"}}},
{"data":{"name":"one"},"mark":{"type":"text","text":"ml","fontSize":6,"color":"#666"},"encoding":{"x":{"datum":77.8,"type":"quantitative"},"y":{"datum":0.185,"type":"quantitative"}}},
{"data":{"name":"one"},"mark":{"type":"text","text":"Ipsi","fontSize":6,"color":"#666"},"encoding":{"x":{"datum":86.2,"type":"quantitative"},"y":{"datum":0.185,"type":"quantitative"}}},
{"data":{"name":"one"},"mark":{"type":"text","text":"2000Hz","fontSize":6,"color":"#666"},"encoding":{"x":{"datum":95.8,"type":"quantitative"},"y":{"datum":0.185,"type":"quantitative"}}},
{"data":{"name":"r2000R"},"mark":{"type":"line","color":"#4a4a4a","strokeWidth":1.3,"interpolate":"monotone"},"encoding":{"x":{"field":"d","type":"quantitative"},"y":{"field":"m","type":"quantitative"}}}
]},
{"width":174,"height":79,"layer":[
{"data":{"name":"one"},"mark":{"type":"rule","color":"#8a8a8a","strokeWidth":0.9},"encoding":{"x":{"datum":78,"type":"quantitative","scale":{"domain":[68.0,112.73],"nice":false,"zero":false}},"x2":{"datum":104.5},"y":{"datum":0,"type":"quantitative","scale":{"domain":[-0.107,0.363],"nice":false,"zero":false}}}},
{"data":{"name":"one"},"mark":{"type":"rule","color":"#666","strokeWidth":1},"encoding":{"x":{"datum":78,"type":"quantitative"},"y":{"datum":-0.055,"type":"quantitative"},"y2":{"datum":0.165}}},
{"data":{"name":"one"},"mark":{"type":"point","shape":"triangle-right","size":8,"filled":true,"opacity":1,"color":"#666"},"encoding":{"x":{"datum":104.8,"type":"quantitative"},"y":{"datum":0,"type":"quantitative"}}},
{"data":{"name":"rytick"},"mark":{"type":"tick","orient":"horizontal","size":3.5,"thickness":0.9,"color":"#666"},"encoding":{"x":{"datum":78,"type":"quantitative"},"y":{"field":"v","type":"quantitative"}}},
{"data":{"name":"rylab"},"mark":{"type":"text","align":"right","fontSize":6,"color":"#666"},"encoding":{"x":{"datum":76.8,"type":"quantitative"},"y":{"field":"v","type":"quantitative"},"text":{"field":"t","type":"nominal"}}},
{"data":{"name":"rxlab"},"mark":{"type":"text","fontSize":6,"color":"#666"},"encoding":{"x":{"field":"d","type":"quantitative"},"y":{"datum":-0.068,"type":"quantitative"},"text":{"field":"t","type":"nominal"}}},
{"data":{"name":"one"},"mark":{"type":"text","text":"dBHL","align":"left","fontSize":6,"color":"#666"},"encoding":{"x":{"datum":102.1,"type":"quantitative"},"y":{"datum":-0.068,"type":"quantitative"}}},
{"data":{"name":"one"},"mark":{"type":"text","text":"s","align":"left","fontSize":5,"color":"#666"},"encoding":{"x":{"datum":105.8,"type":"quantitative"},"y":{"datum":0.014,"type":"quantitative"}}},
{"data":{"name":"one"},"mark":{"type":"text","text":"Seq.","align":"left","fontSize":6,"color":"#666"},"encoding":{"x":{"datum":72.5,"type":"quantitative"},"y":{"datum":0.256,"type":"quantitative"}}},
{"data":{"name":"one"},"mark":{"type":"text","text":"ml","fontSize":6,"color":"#666"},"encoding":{"x":{"datum":77.8,"type":"quantitative"},"y":{"datum":0.185,"type":"quantitative"}}},
{"data":{"name":"one"},"mark":{"type":"text","text":"Ipsi","fontSize":6,"color":"#666"},"encoding":{"x":{"datum":86.2,"type":"quantitative"},"y":{"datum":0.185,"type":"quantitative"}}},
{"data":{"name":"one"},"mark":{"type":"text","text":"2000Hz","fontSize":6,"color":"#666"},"encoding":{"x":{"datum":95.8,"type":"quantitative"},"y":{"datum":0.185,"type":"quantitative"}}},
{"data":{"name":"r2000L"},"mark":{"type":"line","color":"#4a4a4a","strokeWidth":1.3,"interpolate":"monotone"},"encoding":{"x":{"field":"d","type":"quantitative"},"y":{"field":"m","type":"quantitative"}}}
]}
]},

{"spacing":0,"bounds":"flush","hconcat":[
{"width":167,"height":79,"layer":[
{"data":{"name":"one"},"mark":{"type":"rule","color":"#8a8a8a","strokeWidth":0.9},"encoding":{"x":{"datum":78,"type":"quantitative","scale":{"domain":[64.28,107.82],"nice":false,"zero":false}},"x2":{"datum":104.5},"y":{"datum":0,"type":"quantitative","scale":{"domain":[-0.107,0.363],"nice":false,"zero":false}}}},
{"data":{"name":"one"},"mark":{"type":"rule","color":"#666","strokeWidth":1},"encoding":{"x":{"datum":78,"type":"quantitative"},"y":{"datum":-0.055,"type":"quantitative"},"y2":{"datum":0.165}}},
{"data":{"name":"one"},"mark":{"type":"point","shape":"triangle-right","size":8,"filled":true,"opacity":1,"color":"#666"},"encoding":{"x":{"datum":104.8,"type":"quantitative"},"y":{"datum":0,"type":"quantitative"}}},
{"data":{"name":"rytick"},"mark":{"type":"tick","orient":"horizontal","size":3.5,"thickness":0.9,"color":"#666"},"encoding":{"x":{"datum":78,"type":"quantitative"},"y":{"field":"v","type":"quantitative"}}},
{"data":{"name":"rylab"},"mark":{"type":"text","align":"right","fontSize":6,"color":"#666"},"encoding":{"x":{"datum":76.8,"type":"quantitative"},"y":{"field":"v","type":"quantitative"},"text":{"field":"t","type":"nominal"}}},
{"data":{"name":"rxlab"},"mark":{"type":"text","fontSize":6,"color":"#666"},"encoding":{"x":{"field":"d","type":"quantitative"},"y":{"datum":-0.068,"type":"quantitative"},"text":{"field":"t","type":"nominal"}}},
{"data":{"name":"one"},"mark":{"type":"text","text":"dBHL","align":"left","fontSize":6,"color":"#666"},"encoding":{"x":{"datum":102.1,"type":"quantitative"},"y":{"datum":-0.068,"type":"quantitative"}}},
{"data":{"name":"one"},"mark":{"type":"text","text":"s","align":"left","fontSize":5,"color":"#666"},"encoding":{"x":{"datum":105.8,"type":"quantitative"},"y":{"datum":0.014,"type":"quantitative"}}},
{"data":{"name":"one"},"mark":{"type":"text","text":"Seq.","align":"left","fontSize":6,"color":"#666"},"encoding":{"x":{"datum":72.5,"type":"quantitative"},"y":{"datum":0.256,"type":"quantitative"}}},
{"data":{"name":"one"},"mark":{"type":"text","text":"ml","fontSize":6,"color":"#666"},"encoding":{"x":{"datum":77.8,"type":"quantitative"},"y":{"datum":0.185,"type":"quantitative"}}},
{"data":{"name":"one"},"mark":{"type":"text","text":"Ipsi","fontSize":6,"color":"#666"},"encoding":{"x":{"datum":86.2,"type":"quantitative"},"y":{"datum":0.185,"type":"quantitative"}}},
{"data":{"name":"one"},"mark":{"type":"text","text":"4000Hz","fontSize":6,"color":"#666"},"encoding":{"x":{"datum":95.8,"type":"quantitative"},"y":{"datum":0.185,"type":"quantitative"}}},
{"data":{"name":"r4000R"},"mark":{"type":"line","color":"#4a4a4a","strokeWidth":1.3,"interpolate":"monotone"},"encoding":{"x":{"field":"d","type":"quantitative"},"y":{"field":"m","type":"quantitative"}}}
]},
{"width":174,"height":79,"layer":[
{"data":{"name":"one"},"mark":{"type":"rule","color":"#8a8a8a","strokeWidth":0.9},"encoding":{"x":{"datum":78,"type":"quantitative","scale":{"domain":[68.0,112.73],"nice":false,"zero":false}},"x2":{"datum":104.5},"y":{"datum":0,"type":"quantitative","scale":{"domain":[-0.107,0.363],"nice":false,"zero":false}}}},
{"data":{"name":"one"},"mark":{"type":"rule","color":"#666","strokeWidth":1},"encoding":{"x":{"datum":78,"type":"quantitative"},"y":{"datum":-0.055,"type":"quantitative"},"y2":{"datum":0.165}}},
{"data":{"name":"one"},"mark":{"type":"point","shape":"triangle-right","size":8,"filled":true,"opacity":1,"color":"#666"},"encoding":{"x":{"datum":104.8,"type":"quantitative"},"y":{"datum":0,"type":"quantitative"}}},
{"data":{"name":"rytick"},"mark":{"type":"tick","orient":"horizontal","size":3.5,"thickness":0.9,"color":"#666"},"encoding":{"x":{"datum":78,"type":"quantitative"},"y":{"field":"v","type":"quantitative"}}},
{"data":{"name":"rylab"},"mark":{"type":"text","align":"right","fontSize":6,"color":"#666"},"encoding":{"x":{"datum":76.8,"type":"quantitative"},"y":{"field":"v","type":"quantitative"},"text":{"field":"t","type":"nominal"}}},
{"data":{"name":"rxlab"},"mark":{"type":"text","fontSize":6,"color":"#666"},"encoding":{"x":{"field":"d","type":"quantitative"},"y":{"datum":-0.068,"type":"quantitative"},"text":{"field":"t","type":"nominal"}}},
{"data":{"name":"one"},"mark":{"type":"text","text":"dBHL","align":"left","fontSize":6,"color":"#666"},"encoding":{"x":{"datum":102.1,"type":"quantitative"},"y":{"datum":-0.068,"type":"quantitative"}}},
{"data":{"name":"one"},"mark":{"type":"text","text":"s","align":"left","fontSize":5,"color":"#666"},"encoding":{"x":{"datum":105.8,"type":"quantitative"},"y":{"datum":0.014,"type":"quantitative"}}},
{"data":{"name":"one"},"mark":{"type":"text","text":"Seq.","align":"left","fontSize":6,"color":"#666"},"encoding":{"x":{"datum":72.5,"type":"quantitative"},"y":{"datum":0.256,"type":"quantitative"}}},
{"data":{"name":"one"},"mark":{"type":"text","text":"ml","fontSize":6,"color":"#666"},"encoding":{"x":{"datum":77.8,"type":"quantitative"},"y":{"datum":0.185,"type":"quantitative"}}},
{"data":{"name":"one"},"mark":{"type":"text","text":"Ipsi","fontSize":6,"color":"#666"},"encoding":{"x":{"datum":86.2,"type":"quantitative"},"y":{"datum":0.185,"type":"quantitative"}}},
{"data":{"name":"one"},"mark":{"type":"text","text":"4000Hz","fontSize":6,"color":"#666"},"encoding":{"x":{"datum":95.8,"type":"quantitative"},"y":{"datum":0.185,"type":"quantitative"}}},
{"data":{"name":"r4000L"},"mark":{"type":"line","color":"#4a4a4a","strokeWidth":1.3,"interpolate":"monotone"},"encoding":{"x":{"field":"d","type":"quantitative"},"y":{"field":"m","type":"quantitative"}}}
]}
]},

{"width":334,"height":46,"data":{"values":[{"t":"ETF 1"}]},"mark":{"type":"text","fontSize":16,"font":"DejaVu Serif","color":"#3c3c3c"},"encoding":{"y":{"field":"t","type":"nominal","scale":{"type":"point","align":0.739}},"text":{"field":"t","type":"nominal"}}},

{"spacing":0,"bounds":"flush","hconcat":[
{"width":167,"height":156,"layer":[
{"data":{"name":"gridp"},"mark":{"type":"rule","color":"#9a9a9a","strokeWidth":1.2,"strokeDash":[1.2,7.425]},"encoding":{"x":{"field":"p","type":"quantitative","scale":{"domain":[-949.2,466.1],"nice":false,"zero":false}},"y":{"datum":-0.25,"type":"quantitative","scale":{"domain":[-0.812,3.71],"nice":false,"zero":false}},"y2":{"datum":3.0}}},
{"data":{"name":"hlines"},"mark":{"type":"rule","color":"#b4b4b4","strokeWidth":0.9},"encoding":{"x":{"datum":-620,"type":"quantitative"},"x2":{"datum":350},"y":{"field":"c","type":"quantitative"}}},
{"data":{"name":"one"},"mark":{"type":"rule","color":"#b4b4b4","strokeWidth":0.9},"encoding":{"x":{"datum":-480,"type":"quantitative"},"x2":{"datum":350},"y":{"datum":3,"type":"quantitative"}}},
{"data":{"name":"one"},"mark":{"type":"rule","color":"#8a8a8a","strokeWidth":0.9},"encoding":{"x":{"datum":-620,"type":"quantitative"},"x2":{"datum":515},"y":{"datum":0,"type":"quantitative"}}},
{"data":{"name":"one"},"mark":{"type":"rule","color":"#707070","strokeWidth":1},"encoding":{"x":{"datum":0,"type":"quantitative"},"y":{"datum":-0.5,"type":"quantitative"},"y2":{"datum":3.08}}},
{"data":{"name":"one"},"mark":{"type":"point","shape":"triangle-up","size":10,"filled":true,"opacity":1,"color":"#666"},"encoding":{"x":{"datum":0,"type":"quantitative"},"y":{"datum":3.1,"type":"quantitative"}}},
{"data":{"name":"one"},"mark":{"type":"point","shape":"triangle-right","size":10,"filled":true,"opacity":1,"color":"#666"},"encoding":{"x":{"datum":525,"type":"quantitative"},"y":{"datum":0,"type":"quantitative"}}},
{"data":{"name":"gridp"},"mark":{"type":"tick","orient":"vertical","size":4,"thickness":0.9,"color":"#777"},"encoding":{"x":{"field":"p","type":"quantitative"},"y":{"datum":0,"type":"quantitative"}}},
{"data":{"name":"bigt"},"mark":{"type":"tick","orient":"vertical","size":9,"thickness":1.6,"color":"#555"},"encoding":{"x":{"field":"p","type":"quantitative"},"y":{"datum":0,"type":"quantitative"}}},
{"data":{"name":"gridc"},"mark":{"type":"tick","orient":"horizontal","size":4,"thickness":0.9,"color":"#777"},"encoding":{"x":{"datum":0,"type":"quantitative"},"y":{"field":"c","type":"quantitative"}}},
{"data":{"name":"ylab"},"mark":{"type":"text","align":"right","fontSize":6.5,"color":"#666"},"encoding":{"x":{"datum":-640,"type":"quantitative"},"y":{"field":"c","type":"quantitative"},"text":{"field":"t","type":"nominal"}}},
{"data":{"name":"one"},"mark":{"type":"text","text":"ml","align":"left","fontSize":5.5,"color":"#666"},"encoding":{"x":{"datum":-622,"type":"quantitative"},"y":{"datum":3.13,"type":"quantitative"}}},
{"data":{"name":"xlab"},"mark":{"type":"text","fontSize":6.5,"color":"#666"},"encoding":{"x":{"field":"p","type":"quantitative"},"y":{"datum":-0.445,"type":"quantitative"},"text":{"field":"t","type":"nominal"}}},
{"data":{"name":"one"},"mark":{"type":"text","text":"daPa","align":"left","fontSize":6.5,"color":"#666"},"encoding":{"x":{"datum":382,"type":"quantitative"},"y":{"datum":-0.445,"type":"quantitative"}}},
{"data":{"name":"one"},"mark":{"type":"text","text":"Right","fontSize":8,"fontWeight":"bold","color":"#444"},"encoding":{"x":{"datum":-195,"type":"quantitative"},"y":{"datum":3.48,"type":"quantitative"}}},
{"data":{"values":[{"vol":0.83}]},"mark":{"type":"rule","color":"#555","strokeWidth":2.6},"encoding":{"x":{"datum":430,"type":"quantitative"},"y":{"field":"vol","type":"quantitative"},"y2":{"datum":0}}},
{"data":{"name":"etfR"},"mark":{"type":"line","color":"#555","strokeWidth":1.1,"interpolate":"monotone"},"encoding":{"x":{"field":"p","type":"quantitative"},"y":{"field":"m","type":"quantitative"},"detail":{"field":"n","type":"nominal"}}}
]},
{"width":174,"height":156,"layer":[
{"data":{"name":"gridp"},"mark":{"type":"rule","color":"#9a9a9a","strokeWidth":1.2,"strokeDash":[1.2,7.425]},"encoding":{"x":{"field":"p","type":"quantitative","scale":{"domain":[-782.6,730.4],"nice":false,"zero":false}},"y":{"datum":-0.25,"type":"quantitative","scale":{"domain":[-0.812,3.71],"nice":false,"zero":false}},"y2":{"datum":3.0}}},
{"data":{"name":"hlines"},"mark":{"type":"rule","color":"#b4b4b4","strokeWidth":0.9},"encoding":{"x":{"datum":-620,"type":"quantitative"},"x2":{"datum":350},"y":{"field":"c","type":"quantitative"}}},
{"data":{"name":"one"},"mark":{"type":"rule","color":"#b4b4b4","strokeWidth":0.9},"encoding":{"x":{"datum":-480,"type":"quantitative"},"x2":{"datum":350},"y":{"datum":3,"type":"quantitative"}}},
{"data":{"name":"one"},"mark":{"type":"rule","color":"#8a8a8a","strokeWidth":0.9},"encoding":{"x":{"datum":-620,"type":"quantitative"},"x2":{"datum":515},"y":{"datum":0,"type":"quantitative"}}},
{"data":{"name":"one"},"mark":{"type":"rule","color":"#707070","strokeWidth":1},"encoding":{"x":{"datum":0,"type":"quantitative"},"y":{"datum":-0.5,"type":"quantitative"},"y2":{"datum":3.08}}},
{"data":{"name":"one"},"mark":{"type":"point","shape":"triangle-up","size":10,"filled":true,"opacity":1,"color":"#666"},"encoding":{"x":{"datum":0,"type":"quantitative"},"y":{"datum":3.1,"type":"quantitative"}}},
{"data":{"name":"one"},"mark":{"type":"point","shape":"triangle-right","size":10,"filled":true,"opacity":1,"color":"#666"},"encoding":{"x":{"datum":525,"type":"quantitative"},"y":{"datum":0,"type":"quantitative"}}},
{"data":{"name":"gridp"},"mark":{"type":"tick","orient":"vertical","size":4,"thickness":0.9,"color":"#777"},"encoding":{"x":{"field":"p","type":"quantitative"},"y":{"datum":0,"type":"quantitative"}}},
{"data":{"name":"bigt"},"mark":{"type":"tick","orient":"vertical","size":9,"thickness":1.6,"color":"#555"},"encoding":{"x":{"field":"p","type":"quantitative"},"y":{"datum":0,"type":"quantitative"}}},
{"data":{"name":"gridc"},"mark":{"type":"tick","orient":"horizontal","size":4,"thickness":0.9,"color":"#777"},"encoding":{"x":{"datum":0,"type":"quantitative"},"y":{"field":"c","type":"quantitative"}}},
{"data":{"name":"ylab"},"mark":{"type":"text","align":"right","fontSize":6.5,"color":"#666"},"encoding":{"x":{"datum":-640,"type":"quantitative"},"y":{"field":"c","type":"quantitative"},"text":{"field":"t","type":"nominal"}}},
{"data":{"name":"one"},"mark":{"type":"text","text":"ml","align":"left","fontSize":5.5,"color":"#666"},"encoding":{"x":{"datum":-622,"type":"quantitative"},"y":{"datum":3.13,"type":"quantitative"}}},
{"data":{"name":"xlab"},"mark":{"type":"text","fontSize":6.5,"color":"#666"},"encoding":{"x":{"field":"p","type":"quantitative"},"y":{"datum":-0.445,"type":"quantitative"},"text":{"field":"t","type":"nominal"}}},
{"data":{"name":"one"},"mark":{"type":"text","text":"daPa","align":"left","fontSize":6.5,"color":"#666"},"encoding":{"x":{"datum":382,"type":"quantitative"},"y":{"datum":-0.445,"type":"quantitative"}}},
{"data":{"name":"one"},"mark":{"type":"text","text":"Left","fontSize":8,"fontWeight":"bold","color":"#444"},"encoding":{"x":{"datum":-17,"type":"quantitative"},"y":{"datum":3.48,"type":"quantitative"}}},
{"data":{"values":[{"vol":0.79}]},"mark":{"type":"rule","color":"#555","strokeWidth":2.6},"encoding":{"x":{"datum":450,"type":"quantitative"},"y":{"field":"vol","type":"quantitative"},"y2":{"datum":0}}},
{"data":{"name":"etfL"},"mark":{"type":"line","color":"#555","strokeWidth":1.1,"interpolate":"monotone"},"encoding":{"x":{"field":"p","type":"quantitative"},"y":{"field":"m","type":"quantitative"},"detail":{"field":"n","type":"nominal"}}}
]}
]},

{"spacing":0,"bounds":"flush","hconcat":[
{"width":167,"height":48,"data":{"values":[{"k":"Ear Volume","v":"0.83 ml\u00a0\u00a0"},{"k":"Pressure 1","v":"-8 daPa"},{"k":"Pressure 2","v":"-188 daPa"},{"k":"Pressure 3","v":"-28 daPa"}]},"layer":[
{"mark":{"type":"text","align":"left","fontSize":6.8,"color":"#636363"},"encoding":{"y":{"field":"k","type":"nominal","sort":null,"scale":{"type":"point","padding":0.9}},"x":{"datum":-595,"type":"quantitative","scale":{"domain":[-949.2,466.1],"nice":false,"zero":false}},"text":{"field":"k","type":"nominal"}}},
{"mark":{"type":"text","align":"right","fontSize":6.8,"color":"#636363"},"encoding":{"y":{"field":"k","type":"nominal","sort":null},"x":{"datum":271,"type":"quantitative"},"text":{"field":"v","type":"nominal"}}}
]},
{"width":174,"height":48,"data":{"values":[{"k":"Ear Volume","v":"0.79 ml\u00a0\u00a0"},{"k":"Pressure 1","v":"-25 daPa"},{"k":"Pressure 2","v":"-202 daPa"},{"k":"Pressure 3","v":"108 daPa"}]},"layer":[
{"mark":{"type":"text","align":"left","fontSize":6.8,"color":"#636363"},"encoding":{"y":{"field":"k","type":"nominal","sort":null,"scale":{"type":"point","padding":0.9}},"x":{"datum":-603,"type":"quantitative","scale":{"domain":[-782.6,730.4],"nice":false,"zero":false}},"text":{"field":"k","type":"nominal"}}},
{"mark":{"type":"text","align":"right","fontSize":6.8,"color":"#636363"},"encoding":{"y":{"field":"k","type":"nominal","sort":null},"x":{"datum":304,"type":"quantitative"},"text":{"field":"v","type":"nominal"}}}
]}
]}

]}
]}
]
}
